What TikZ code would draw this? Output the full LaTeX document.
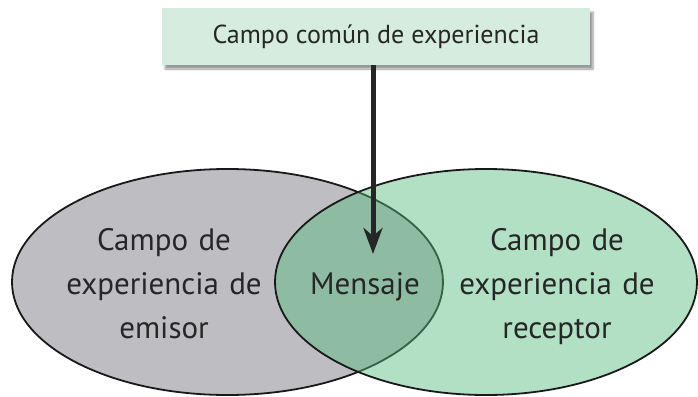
\documentclass[tikz,border=0pt]{standalone}
\usepackage{fontspec}
\setmainfont{PT Sans}
\usetikzlibrary{arrows.meta,shapes.geometric,shadows.blur}

\definecolor{gris}{RGB}{190,190,194}
\definecolor{verde}{RGB}{84,187,124}
\definecolor{verdeclaro}{RGB}{214,236,222}

\tikzset{
  campo/.style={ellipse, draw=black!90, line width=1.8pt, inner sep=0pt},
  rotulo/.style={align=center, text width=230pt, anchor=base, inner sep=0pt,
                 font=\fontsize{31}{44}\selectfont, text=black!85},
}

\begin{document}
\begin{tikzpicture}[x=1pt, y=-1pt, >=Stealth]
  \useasboundingbox (0,0) rectangle (698,396);

  % Recuadro superior con sombra
  \node[fill=verdeclaro, minimum width=428pt, minimum height=57pt,
        blur shadow={shadow xshift=3pt, shadow yshift=-4pt, shadow blur steps=6},
        font=\fontsize{26}{30}\selectfont, text=black!85] (comun) at (376,36.5)
        {Campo común de experiencia};

  % Campos del emisor y del receptor
  \node[campo, fill=gris, minimum width=431pt, minimum height=226pt] (emisor) at (227.5,282) {};
  \node[campo, fill=verde, fill opacity=0.45, minimum width=422pt, minimum height=226pt] (receptor) at (486,282) {};

  % Textos
  \node[rotulo] (temisor) at (164,250) {Campo de\\experiencia de\\emisor};
  \node[rotulo] (treceptor) at (557,250) {Campo de\\experiencia de\\receptor};
  \node[rotulo] (mensaje) at (365,294) {Mensaje};

  % Flecha hacia el mensaje
  \coordinate (punta) at (373,254);
  \draw[line width=5pt, black!85, -{Stealth[length=26pt, width=19pt, inset=8pt]}]
    (comun.south -| punta) -- (punta);
\end{tikzpicture}
\end{document}
